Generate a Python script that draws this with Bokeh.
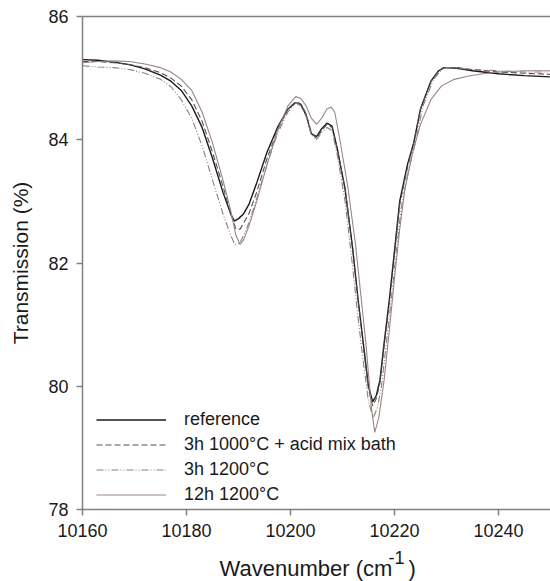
from bokeh.plotting import figure
from bokeh.models import Range1d, LinearAxis, FixedTicker, Legend, LegendItem, Label
from bokeh.layouts import column
from bokeh.embed import file_html
from bokeh.resources import INLINE

# ---- data ----
ref_x = [10160, 10163, 10166, 10169, 10172, 10175, 10177, 10179, 10181, 10183, 10185, 10187, 10188.5, 10189.2, 10190, 10191, 10192, 10193.5, 10195.5, 10197.5, 10199.5, 10201, 10202, 10203, 10204, 10205, 10206, 10207, 10208, 10209, 10210.5, 10212, 10213, 10214, 10215, 10215.8, 10216.5, 10217.2, 10218, 10219, 10220, 10221, 10222.5, 10223.7, 10225, 10227, 10228.5, 10229.5, 10232, 10235, 10240, 10245, 10250]
ref_y = [85.30, 85.29, 85.26, 85.22, 85.15, 85.05, 84.95, 84.80, 84.55, 84.20, 83.70, 83.15, 82.80, 82.68, 82.72, 82.80, 82.95, 83.30, 83.80, 84.20, 84.50, 84.60, 84.57, 84.40, 84.10, 84.05, 84.18, 84.27, 84.22, 83.85, 83.20, 82.20, 81.40, 80.70, 80.00, 79.75, 79.85, 80.10, 80.70, 81.40, 82.20, 83.00, 83.60, 83.95, 84.50, 84.95, 85.12, 85.17, 85.16, 85.12, 85.07, 85.04, 85.02]

acid_x = [10160, 10163, 10166, 10169, 10172, 10175, 10177, 10179, 10181, 10183, 10185, 10187, 10188.5, 10189.5, 10190.3, 10191, 10192, 10193.5, 10195.5, 10197.5, 10199.5, 10201, 10202, 10203, 10204, 10205, 10206, 10207, 10208, 10209, 10210.5, 10212, 10213, 10214, 10215, 10215.8, 10216.5, 10217.2, 10218, 10219, 10220, 10221, 10222.5, 10223.7, 10225, 10227, 10228.5, 10229.5, 10232, 10235, 10240, 10245, 10250]
acid_y = [85.27, 85.27, 85.25, 85.22, 85.17, 85.09, 85.00, 84.87, 84.65, 84.30, 83.80, 83.25, 82.80, 82.55, 82.55, 82.65, 82.80, 83.15, 83.70, 84.15, 84.50, 84.62, 84.58, 84.42, 84.12, 84.02, 84.15, 84.25, 84.20, 83.85, 83.20, 82.20, 81.40, 80.65, 79.95, 79.68, 79.80, 80.05, 80.65, 81.35, 82.15, 82.95, 83.55, 83.95, 84.50, 84.95, 85.12, 85.17, 85.17, 85.14, 85.10, 85.08, 85.06]

h3_x = [10160, 10163, 10166, 10169, 10172, 10175, 10177, 10179, 10181, 10183, 10185, 10187, 10188.5, 10189.3, 10190.2, 10191, 10192, 10193.5, 10195.5, 10197.5, 10199.5, 10201, 10202, 10203, 10204, 10205, 10206, 10207, 10208, 10209, 10210.5, 10212, 10213, 10214, 10215, 10215.9, 10216.7, 10217.5, 10218.3, 10219.3, 10220.3, 10221.3, 10222.7, 10224, 10225.5, 10227.5, 10229, 10230, 10232, 10235, 10240, 10245, 10250]
h3_y = [85.20, 85.18, 85.17, 85.14, 85.08, 84.98, 84.86, 84.65, 84.35, 83.90, 83.35, 82.80, 82.45, 82.30, 82.32, 82.45, 82.65, 83.05, 83.60, 84.10, 84.45, 84.60, 84.55, 84.38, 84.08, 84.00, 84.12, 84.20, 84.15, 83.75, 83.00, 81.90, 81.10, 80.40, 79.75, 79.48, 79.65, 80.00, 80.60, 81.35, 82.15, 82.90, 83.50, 83.95, 84.55, 84.98, 85.13, 85.17, 85.16, 85.14, 85.12, 85.10, 85.10]

h12_x = [10160, 10163, 10166, 10169, 10172, 10175, 10177, 10179, 10181, 10183, 10185, 10187, 10188.5, 10189.5, 10190.3, 10191, 10192, 10193.5, 10195.5, 10197.5, 10199.5, 10201, 10202, 10203, 10204, 10205, 10206, 10207, 10207.8, 10208.5, 10209.5, 10211, 10212.5, 10213.5, 10214.5, 10215.5, 10216.2, 10217, 10218, 10219, 10220, 10221, 10222, 10223.5, 10225, 10227, 10229, 10231.5, 10234, 10237, 10240, 10245, 10250]
h12_y = [85.25, 85.27, 85.28, 85.27, 85.23, 85.17, 85.10, 84.98, 84.80, 84.45, 83.95, 83.35, 82.85, 82.45, 82.30, 82.38, 82.60, 83.00, 83.60, 84.15, 84.55, 84.70, 84.67, 84.55, 84.35, 84.25, 84.35, 84.50, 84.53, 84.45, 84.00, 83.25, 82.30, 81.50, 80.70, 79.70, 79.25, 79.50, 80.10, 80.90, 81.75, 82.55, 83.20, 83.80, 84.25, 84.65, 84.87, 84.98, 85.03, 85.07, 85.10, 85.12, 85.12]

series_labels = ["reference", "3h 1000°C + acid mix bath", "3h 1200°C", "12h 1200°C"]
x_ticks = [10160, 10180, 10200, 10220, 10240]
y_ticks = [78, 80, 82, 84, 86]
x_title = ["Wavenumber (cm", "-1", ")"]

FONT = "Liberation Sans"
AXIS_GREY = "#808080"
TEXT = "#1a1a1a"

p = figure(width=550, height=540, output_backend="svg", toolbar_location=None,
           x_range=Range1d(10160, 10250), y_range=Range1d(78, 86),
           min_border_left=82, min_border_right=0, min_border_top=16, min_border_bottom=31)
p.outline_line_color = None
p.grid.grid_line_color = None
p.background_fill_color = "white"
p.border_fill_color = "white"

for ax in (p.xaxis[0], p.yaxis[0]):
    ax.axis_line_color = AXIS_GREY
    ax.axis_line_width = 1.5
    ax.major_tick_line_color = AXIS_GREY
    ax.major_tick_line_width = 1.5
    ax.major_tick_in = 0
    ax.major_tick_out = 6
    ax.minor_tick_line_color = None
    ax.major_label_text_font = FONT
    ax.major_label_text_font_size = "18px"
    ax.major_label_text_color = TEXT

p.xaxis[0].ticker = FixedTicker(ticks=x_ticks)
p.yaxis[0].ticker = FixedTicker(ticks=y_ticks)
p.xaxis[0].major_label_standoff = 8
p.yaxis[0].major_label_standoff = 8

p.yaxis[0].axis_label = "Transmission (%)"
p.yaxis[0].axis_label_text_font = FONT
p.yaxis[0].axis_label_text_font_size = "21px"
p.yaxis[0].axis_label_text_font_style = "normal"
p.yaxis[0].axis_label_text_color = TEXT
p.yaxis[0].axis_label_standoff = 13

top = LinearAxis(major_tick_line_color=None, minor_tick_line_color=None,
                 major_label_text_font_size="0px", axis_line_color=AXIS_GREY,
                 axis_line_width=1.5, ticker=FixedTicker(ticks=[]))
p.add_layout(top, "above")

r1 = p.line(ref_x, ref_y, line_color="#1a1a1a", line_width=1.4)
r2 = p.line(acid_x, acid_y, line_color="#505050", line_width=1.1, line_dash="6 3")
r3 = p.line(h3_x, h3_y, line_color="#8a8080", line_width=1.1, line_dash="7 2 1 2 1 2")
r4 = p.line(h12_x, h12_y, line_color="#9b8583", line_width=1.1)

legend = Legend(items=[LegendItem(label=series_labels[0], renderers=[r1]),
                       LegendItem(label=series_labels[1], renderers=[r2]),
                       LegendItem(label=series_labels[2], renderers=[r3]),
                       LegendItem(label=series_labels[3], renderers=[r4])],
                location=(14, 2), glyph_width=70, glyph_height=25, label_height=25,
                label_standoff=18, spacing=0, padding=0, margin=0,
                border_line_color=None, background_fill_alpha=0,
                label_text_font=FONT, label_text_font_size="18px",
                label_text_color=TEXT)
p.add_layout(legend, "center")

# x-axis title (with superscript) in a strip below the chart
q = figure(width=550, height=41, output_backend="svg", toolbar_location=None,
           x_range=Range1d(0, 1), y_range=Range1d(0, 1),
           min_border_left=82, min_border_right=0, min_border_top=0, min_border_bottom=0)
q.axis.visible = False
q.grid.grid_line_color = None
q.outline_line_color = None
q.background_fill_color = "white"
q.border_fill_color = "white"
xl_kw = dict(x_units="screen", y_units="screen", text_font=FONT, text_color=TEXT,
             text_baseline="alphabetic")
q.add_layout(Label(x=137, y=13, text=x_title[0], text_font_size="22px", **xl_kw))
q.add_layout(Label(x=306, y=24, text=x_title[1], text_font_size="18px", **xl_kw))
q.add_layout(Label(x=326, y=13, text=x_title[2], text_font_size="22px", **xl_kw))

layout = column(p, q, spacing=0)
open("out.html", "w").write(file_html(layout, INLINE))
